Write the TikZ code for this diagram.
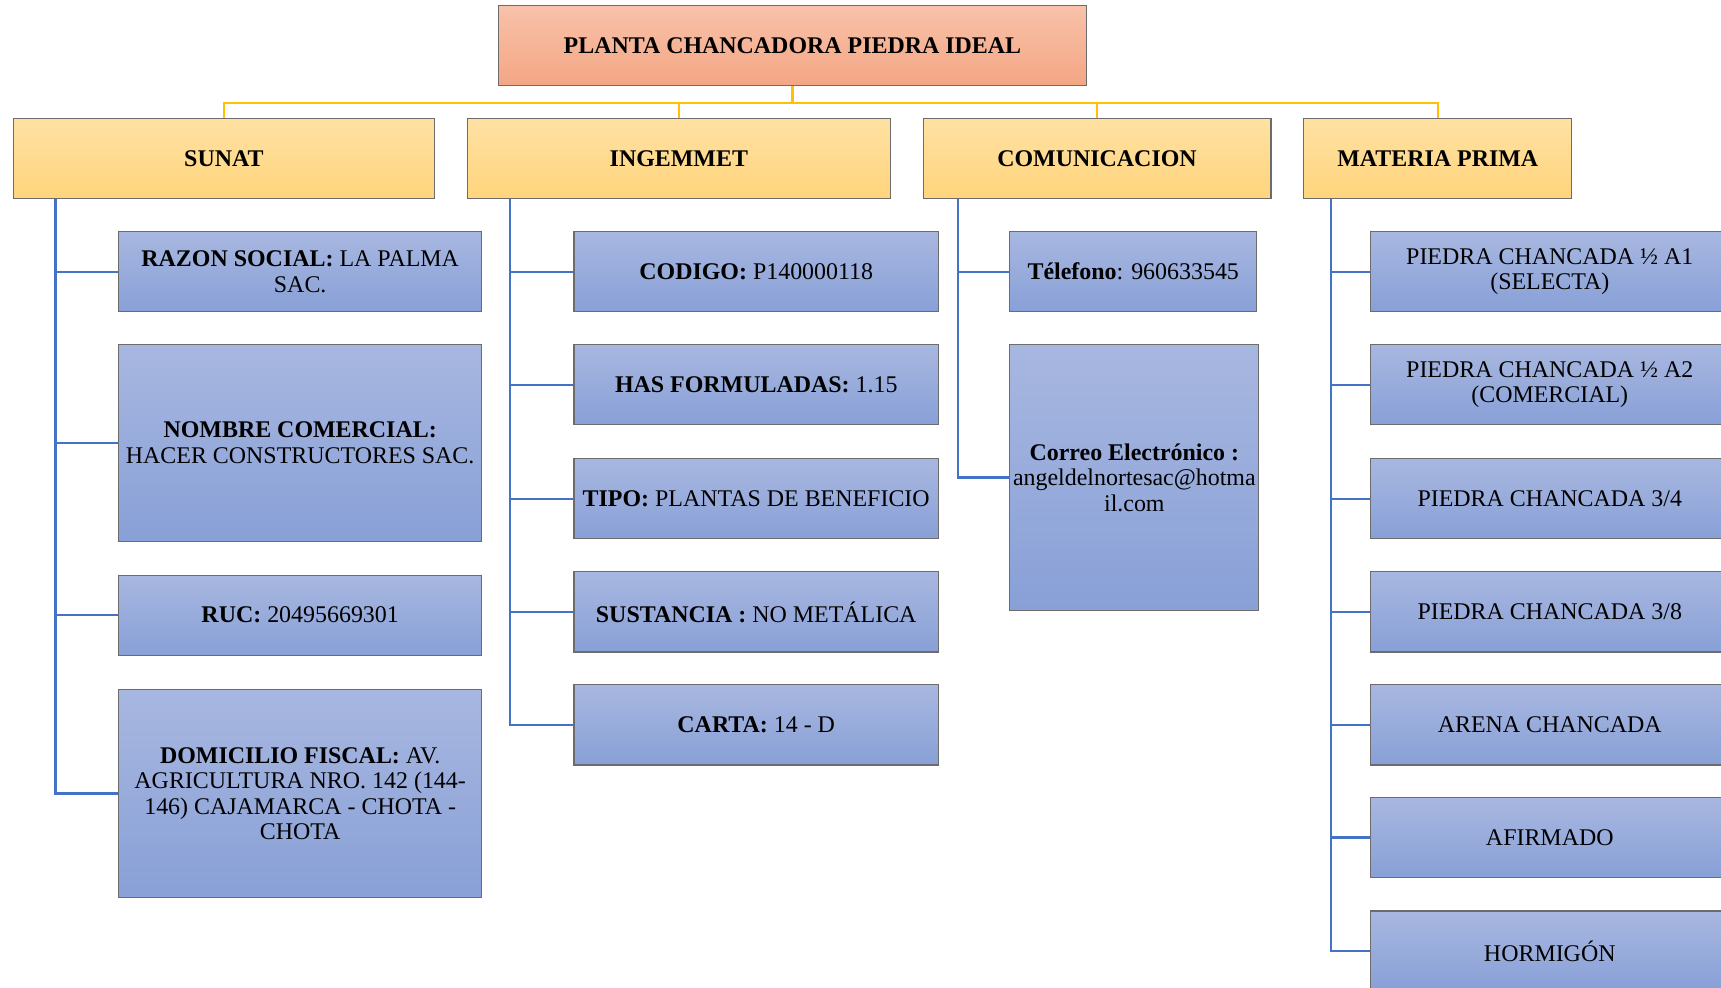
\documentclass[tikz,border=0pt]{standalone}
\usepackage{fontspec}
\setmainfont{Liberation Serif}
\usepackage{xcolor}
\usepackage{tikz}
\usetikzlibrary{positioning}

\definecolor{rootTop}{RGB}{248,194,170}
\definecolor{rootBot}{RGB}{244,166,132}
\definecolor{headTop}{RGB}{255,225,163}
\definecolor{headBot}{RGB}{255,213,124}
\definecolor{itemTop}{RGB}{168,183,224}
\definecolor{itemBot}{RGB}{136,160,215}
\definecolor{busGold}{RGB}{255,192,0}
\definecolor{busBlue}{RGB}{68,114,196}

\begin{document}
\begin{tikzpicture}[x=0.5pt, y=-0.5pt,
        box/.style={draw=gray!85!black, line width=0.5pt, inner sep=1pt, align=center, font=\fontsize{10.9}{11.6}\selectfont},
        rootbox/.style={box, top color=rootTop, bottom color=rootBot, minimum width=268pt, minimum height=36.5pt},
        headbox/.style={box, top color=headTop, bottom color=headBot, minimum height=36.5pt},
        itembox/.style={box, top color=itemTop, bottom color=itemBot, minimum height=36.5pt},
        goldline/.style={draw=busGold, line width=1pt},
        blueline/.style={draw=busBlue, line width=1pt}]
            \useasboundingbox (0, 0) rectangle (1568, 900);
            \clip (0, 0) rectangle (1568, 900);

            \node[rootbox] (root) at (722, 41.5) {\textbf{PLANTA CHANCADORA PIEDRA IDEAL}};

            \node[headbox, minimum width=192pt] (sunat) at (204, 144.5) {\textbf{SUNAT}};
            \node[headbox, minimum width=192.5pt] (ingemmet) at (618.5, 144.5) {\textbf{INGEMMET}};
            \node[headbox, minimum width=158.5pt] (comunicacion) at (999.5, 144.5) {\textbf{COMUNICACION}};
            \node[headbox, minimum width=122pt] (materia) at (1310, 144.5) {\textbf{MATERIA PRIMA}};

            \node[itembox, minimum width=165.5pt] (razon) at (273.5, 247.5) {\textbf{RAZON SOCIAL:} LA PALMA\\SAC.};
            \node[itembox, minimum width=165.5pt, minimum height=89.5pt] (nombre) at (273.5, 403.5) {\textbf{NOMBRE COMERCIAL:}\\HACER CONSTRUCTORES SAC.};
            \node[itembox, minimum width=165.5pt] (ruc) at (273.5, 560.5) {\textbf{RUC:} 20495669301};
            \node[itembox, minimum width=165.5pt, minimum height=95pt] (domicilio) at (273.5, 723) {\textbf{DOMICILIO FISCAL:} AV.\\AGRICULTURA NRO. 142 (144-\\146) CAJAMARCA - CHOTA -\\CHOTA};

            \node[itembox, minimum width=166pt] (codigo) at (689, 247.5) {\textbf{CODIGO:} P140000118};
            \node[itembox, minimum width=166pt] (formuladas) at (689, 350.5) {\textbf{HAS FORMULADAS:} 1.15};
            \node[itembox, minimum width=166pt] (tipo) at (689, 454.5) {\textbf{TIPO:} PLANTAS DE BENEFICIO};
            \node[itembox, minimum width=166pt] (sustancia) at (689, 557.5) {\textbf{SUSTANCIA :} NO METÁLICA};
            \node[itembox, minimum width=166pt] (carta) at (689, 660.5) {\textbf{CARTA:} 14 - D};

            \node[itembox, minimum width=112.5pt] (telefono) at (1032.5, 247.5) {\textbf{Télefono}: 960633545};
            \node[itembox, minimum width=113.5pt, minimum height=121pt] (correo) at (1033.5, 435) {\textbf{Correo Electrónico :}\\angeldelnortesac@hotma\\il.com};

            \node[itembox, minimum width=163pt] (selecta) at (1412, 247.5) {PIEDRA CHANCADA ½ A1\\(SELECTA)};
            \node[itembox, minimum width=163pt] (comercial) at (1412, 350.5) {PIEDRA CHANCADA ½ A2\\(COMERCIAL)};
            \node[itembox, minimum width=163pt] (tresc) at (1412, 454.5) {PIEDRA CHANCADA 3/4};
            \node[itembox, minimum width=163pt] (treso) at (1412, 557.5) {PIEDRA CHANCADA 3/8};
            \node[itembox, minimum width=163pt] (arena) at (1412, 660.5) {ARENA CHANCADA};
            \node[itembox, minimum width=163pt] (afirmado) at (1412, 763) {AFIRMADO};
            \node[itembox, minimum width=163pt] (hormigon) at (1412, 866.5) {HORMIGÓN};

            \foreach \h in {sunat, ingemmet, comunicacion, materia}
                \draw[goldline] (root.south) -- ++(0, 15) -| (\h.north);

            \foreach \k in {razon, nombre, ruc, domicilio}
                \draw[blueline] ([xshift=19.5pt]sunat.south west) |- (\k.west);
            \foreach \k in {codigo, formuladas, tipo, sustancia, carta}
                \draw[blueline] ([xshift=19.5pt]ingemmet.south west) |- (\k.west);
            \foreach \k in {telefono, correo}
                \draw[blueline] ([xshift=16pt]comunicacion.south west) |- (\k.west);
            \foreach \k in {selecta, comercial, tresc, treso, arena, afirmado, hormigon}
                \draw[blueline] ([xshift=12.5pt]materia.south west) |- (\k.west);
        \end{tikzpicture}
\end{document}
